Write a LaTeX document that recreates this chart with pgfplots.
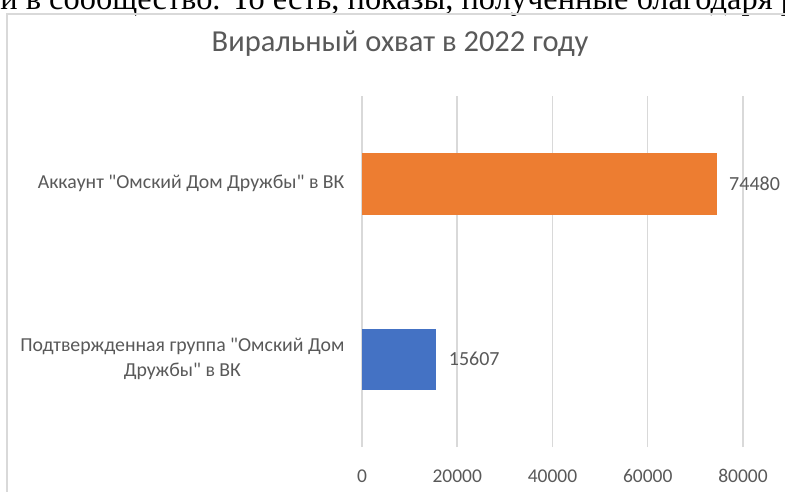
\documentclass[border=0pt]{standalone}
\usepackage{fontspec}
\setmainfont{Carlito}[Ligatures=TeXOff]
\newfontfamily\seriffont{Liberation Serif}
\usepackage{pgfplots}
\pgfplotsset{compat=1.18}
\definecolor{exorange}{HTML}{ED7D31}
\definecolor{exblue}{HTML}{4472C4}
\definecolor{txtgray}{HTML}{595959}
\definecolor{gridgray}{HTML}{D9D9D9}
\begin{document}
\begin{tikzpicture}
\path[use as bounding box] (0pt,0pt) rectangle (785pt,-492pt);
\clip (0pt,0pt) rectangle (785pt,-492pt);
\fill[white] (0pt,0pt) rectangle (785pt,-492pt);
\node[anchor=base west, inner sep=0pt, font=\seriffont\fontsize{32.4}{32.4}\selectfont] at (-16pt,-10pt) {ли в сообщество. То есть, показы, полученные благодаря ре};
\draw[gridgray, line width=1.5pt] (7pt,-500pt) -- (7pt,-14pt) -- (800pt,-14pt);
\node[anchor=base, inner sep=0pt, text=txtgray, font=\fontsize{30.5}{30.5}\selectfont] at (400pt,-52pt) {Виральный охват в 2022 году};
\begin{axis}[
  at={(362pt,-447pt)}, anchor=origin,
  scale only axis, width=381pt, height=351pt,
  xmin=0, xmax=80000, ymin=0.5, ymax=2.5,
  xbar, bar width=61.5pt, bar shift=0pt,
  axis line style={draw=none},
  xmajorgrids, major grid style={gridgray, line width=1.5pt},
  xtick={0,20000,40000,60000,80000},
  scaled x ticks=false,
  /pgf/number format/assume math mode=true,
  /pgf/number format/1000 sep={},
  xticklabel style={text=txtgray, font=\fontsize{19.5}{19.5}\selectfont, yshift=-19pt},
  ytick={1,2},
  yticklabels={{Подтвержденная группа "Омский Дом\\Дружбы" в ВК},{Аккаунт "Омский Дом Дружбы" в ВК}},
  yticklabel style={text=txtgray, font=\fontsize{19.8}{25}\selectfont, align=center, xshift=-14pt},
  major tick length=0pt,
  clip=false,
  nodes near coords,
  nodes near coords style={text=txtgray, font=\fontsize{20}{20}\selectfont, anchor=west, xshift=9pt},
  point meta=explicit symbolic,
]
\addplot[fill=exblue, draw=none] coordinates {(15607,1) [15607]};
\addplot[fill=exorange, draw=none] coordinates {(74480,2) [74480]};
\end{axis}
\end{tikzpicture}
\end{document}
